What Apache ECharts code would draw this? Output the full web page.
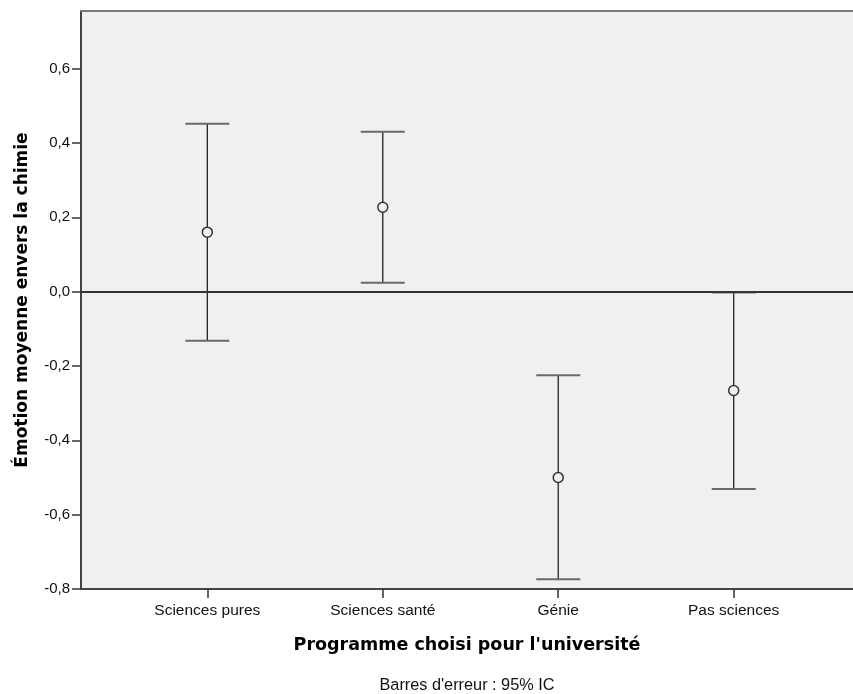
<!DOCTYPE html>
<html>
<head>
<meta charset="utf-8">
<script src="https://cdn.jsdelivr.net/npm/echarts@6/dist/echarts.min.js"></script>
<style>html,body{margin:0;padding:0;background:#fff}#c{width:853px;height:694px}</style>
</head>
<body>
<div id="c"></div>
<script>
const categories = ['Sciences pures', 'Sciences santé', 'Génie', 'Pas sciences'];
const means = [0.160, 0.227, -0.500, -0.266];
const lower = [-0.132, 0.024, -0.774, -0.531];
const upper = [0.452, 0.430, -0.225, -0.002];
const yTicks = [-0.8, -0.6, -0.4, -0.2, 0.0, 0.2, 0.4, 0.6];
const xTicks = [1, 2, 3, 4];

const errData = categories.map((c, i) => [i + 1, means[i], lower[i], upper[i]]);

const chart = echarts.init(document.getElementById('c'), null, {renderer: 'canvas'});
chart.setOption({
  backgroundColor: '#ffffff',
  animation: false,
  grid: {left: 81, top: 11, right: 0, bottom: 105, show: true, backgroundColor: '#f0f0f0', borderWidth: 0},
  xAxis: [{
    type: 'value', min: 0.28, max: 4.68,
    axisLine: {show: true, onZero: false, lineStyle: {color: '#444', width: 2}},
    axisTick: {show: true, length: 9, customValues: xTicks, lineStyle: {color: '#333', width: 1.5}},
    axisLabel: {customValues: xTicks, formatter: v => categories[Math.round(v) - 1] || '', color: '#111', fontFamily: 'Liberation Sans', fontSize: 15.5, margin: 14},
    splitLine: {show: false},
    name: "Programme choisi pour l'université", nameLocation: 'middle', nameGap: 47,
    nameTextStyle: {fontFamily: 'DejaVu Sans', fontWeight: 'bold', fontSize: 17.5, color: '#000'}
  }, {
    type: 'value', min: 0.28, max: 4.68, position: 'top',
    axisLine: {show: true, onZero: false, lineStyle: {color: '#7a7a7a', width: 2}},
    axisTick: {show: false}, axisLabel: {show: false}, splitLine: {show: false}
  }],
  yAxis: {
    type: 'value', min: -0.8, max: 0.755,
    axisLine: {show: true, lineStyle: {color: '#444', width: 2}},
    axisTick: {show: true, length: 9, customValues: yTicks, lineStyle: {color: '#333', width: 1.5}},
    axisLabel: {customValues: yTicks, formatter: v => v.toFixed(1).replace('.', ','), color: '#111', fontFamily: 'Liberation Sans', fontSize: 15, margin: 11},
    splitLine: {show: false},
    name: 'Émotion moyenne envers la chimie', nameLocation: 'middle', nameGap: 50,
    nameTextStyle: {fontFamily: 'DejaVu Sans', fontWeight: 'bold', fontSize: 17, color: '#000'}
  },
  graphic: [{
    type: 'text', x: 467, y: 686,
    style: {text: "Barres d'erreur : 95% IC", fontFamily: 'Liberation Sans', fontSize: 16.3, fill: '#111', align: 'center', verticalAlign: 'middle'}
  }],
  series: [{
    type: 'custom',
    data: errData,
    encode: {x: 0, y: [1, 2, 3]},
    renderItem: function (params, api) {
      const x = api.value(0);
      const pm = api.coord([x, api.value(1)]);
      const pl = api.coord([x, api.value(2)]);
      const pu = api.coord([x, api.value(3)]);
      const hw = 22, r = 5;
      return {
        type: 'group',
        children: [
          {type: 'line', shape: {x1: pm[0], y1: pu[1], x2: pm[0], y2: pm[1] - r}, style: {stroke: '#222', lineWidth: 1.3}},
          {type: 'line', shape: {x1: pm[0], y1: pm[1] + r, x2: pm[0], y2: pl[1]}, style: {stroke: '#222', lineWidth: 1.3}},
          {type: 'line', shape: {x1: pm[0] - hw, y1: pu[1], x2: pm[0] + hw, y2: pu[1]}, style: {stroke: '#6a6a6a', lineWidth: 2}},
          {type: 'line', shape: {x1: pm[0] - hw, y1: pl[1], x2: pm[0] + hw, y2: pl[1]}, style: {stroke: '#6a6a6a', lineWidth: 2}},
          {type: 'circle', shape: {cx: pm[0], cy: pm[1], r: r}, style: {stroke: '#333', fill: 'none', lineWidth: 1.5}}
        ]
      };
    },
    markLine: {
      silent: true, symbol: 'none', label: {show: false},
      lineStyle: {color: '#333', width: 2, type: 'solid'},
      data: [{yAxis: 0}]
    },
    z: 3
  }]
});
</script>
</body>
</html>
